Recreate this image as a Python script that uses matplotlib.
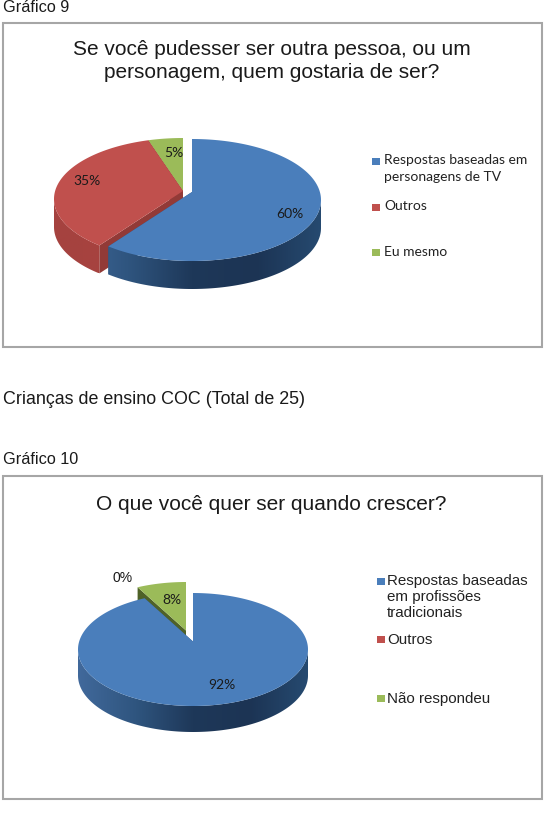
import numpy as np
import matplotlib
matplotlib.use("Agg")
import matplotlib.pyplot as plt
from matplotlib.colors import LinearSegmentedColormap
from matplotlib.patches import Polygon, Rectangle

# chart 9
values_a = [60, 35, 5]
labels_a = ["60%", "35%", "5%"]
legend_a = ["Respostas baseadas em\npersonagens de TV", "Outros", "Eu mesmo"]
title_a = "Se você pudesser ser outra pessoa, ou um\npersonagem, quem gostaria de ser?"

# chart 10
values_b = [92, 0, 8]
labels_b = ["92%", "0%", "8%"]
legend_b = ["Respostas baseadas\nem profissões\ntradicionais", "Outros", "Não respondeu"]
title_b = "O que você quer ser quando crescer?"

BLUE = "#4a7ebb"
RED = "#c0504d"
GREEN = "#9bbb59"
colors = [BLUE, RED, GREEN]
wall_cols = {
    BLUE: ["#41699b", "#2f557f", "#1e3859", "#1c3454", "#264a70"],
    RED: ["#a5423f", "#a8423f", "#ad4642", "#ad4642"],
    GREEN: ["#6f8a3a", "#4f6228"],
}
cut_col = {BLUE: "#2f5480", RED: "#923a37", GREEN: "#4f6228"}

W, H = 551, 831
fig = plt.figure(figsize=(W / 100, H / 100), dpi=100)
ax = fig.add_axes([0, 0, 1, 1])
ax.axis("off")

z = [1]


def next_z():
    z[0] += 1
    return z[0]


def rim(theta, cx, cy, rx, ry, lift):
    # point where the ray from the apex (lift above the ellipse centre) meets the ellipse
    dx, dy = rx * np.sin(theta), -ry * np.cos(theta)
    a = (dx / rx) ** 2 + (dy / ry) ** 2
    b = 2 * (-lift) * dy / ry ** 2
    c = (lift / ry) ** 2 - 1
    t = (-b + np.sqrt(b * b - 4 * a * c)) / (2 * a)
    return cx + t * dx, cy - lift + t * dy


def draw_wall(front, color, x0, x1, depth):
    # outer wall: horizontal gradient clipped to the band under the rim
    shape = np.vstack([front, (front + [0, depth])[::-1]])
    patch = Polygon(shape, fc="none", ec="none", transform=ax.transData)
    ax.add_patch(patch)
    cmap = LinearSegmentedColormap.from_list("wall", wall_cols[color])
    im = ax.imshow(np.linspace(0, 1, 256).reshape(1, -1), cmap=cmap, aspect="auto",
                   extent=(x0, x1, shape[:, 1].max(), shape[:, 1].min()), zorder=next_z())
    im.set_clip_path(patch)


def draw_slice(start, end, color, geo, off):
    cx, cy, rx, ry, lift, depth = geo
    ox, oy = off
    th = np.linspace(start, end, 300)
    pts = np.array([rim(t, cx, cy, rx, ry, lift) for t in th]) + [ox, oy]
    apex = (cx + ox, cy - lift + oy)

    # cut faces first, then the outer wall, then the top
    for edge in (pts[0], pts[-1]):
        ax.add_patch(Polygon([apex, edge, edge + [0, depth], (apex[0], apex[1] + depth)],
                             fc=cut_col[color], ec="none", zorder=next_z()))
    front = pts[pts[:, 1] >= cy + oy]
    if len(front) > 1:
        draw_wall(front, color, cx + ox - rx, cx + ox + rx, depth)
    ax.add_patch(Polygon(np.vstack([[apex], pts]), fc=color, ec="none", zorder=next_z()))


def draw_pie(values, geo, offsets, order):
    total = sum(values)
    edges = np.cumsum([0] + list(values)) / total * 2 * np.pi
    for i in order:
        if values[i] > 0:
            draw_slice(edges[i], edges[i + 1], colors[i], geo, offsets[i])


def draw_box(y0, y1):
    ax.add_patch(Rectangle((3, y0), 539, y1 - y0, fc="white", ec="#a6a6a6", lw=1.5, zorder=0))


def draw_legend(entries, ys, x_mark, x_text, family, size, line_gap):
    for text, y, c in zip(entries, ys, colors):
        ax.add_patch(Rectangle((x_mark, y - 3.5), 7.5, 7.5, fc=c, ec="none", zorder=50))
        ax.text(x_text, y - 6.5, text, family=family, fontsize=size, color="#222222", va="top",
                linespacing=line_gap, zorder=50)


side = dict(family="Liberation Sans", color="#1a1a1a")

ax.text(3, 7, "Gráfico 9", fontsize=11.7, va="center", **side)
ax.text(3, 400, "Crianças de ensino COC (Total de 25)", fontsize=12.9, va="center", **side)
ax.text(3, 459, "Gráfico 10", fontsize=11.7, va="center", **side)

draw_box(23, 347)
draw_box(476, 799)

ax.text(272, 61, title_a, fontsize=15.05, ha="center", va="center", linespacing=1.22, **side)
ax.text(271, 504, title_b, fontsize=15.05, ha="center", va="center", **side)

geo_a = (192, 200, 129, 61, 8, 28)
draw_pie(values_a, geo_a, [(0, 0), (-9, -1), (-9, -1)], [2, 1, 0])
for txt, x, y in zip(labels_a, [290, 87, 174], [214, 181, 153]):
    ax.text(x, y, txt, family="Lato", fontsize=10, color="#1a1a1a", ha="center", va="center", zorder=60)

geo_b = (193, 649.5, 115, 56.5, 8, 26)
draw_pie(values_b, geo_b, [(0, 0), (-7, -11), (-7, -11)], [2, 1, 0])
for txt, x, y, fam in zip(labels_b, [222, 123, 172], [685, 578, 600], ["Lato", "Liberation Sans", "Lato"]):
    ax.text(x, y, txt, family=fam, fontsize=10, color="#1a1a1a", ha="center", va="center", zorder=60)

draw_legend(legend_a, [161, 207, 252], 372, 384, "Lato", 10, 1.47)
draw_legend(legend_b, [581, 639, 698], 377, 387, "Liberation Sans", 10.9, 1.15)

ax.set_xlim(0, W)
ax.set_ylim(H, 0)
fig.savefig("out.png", dpi=100)
